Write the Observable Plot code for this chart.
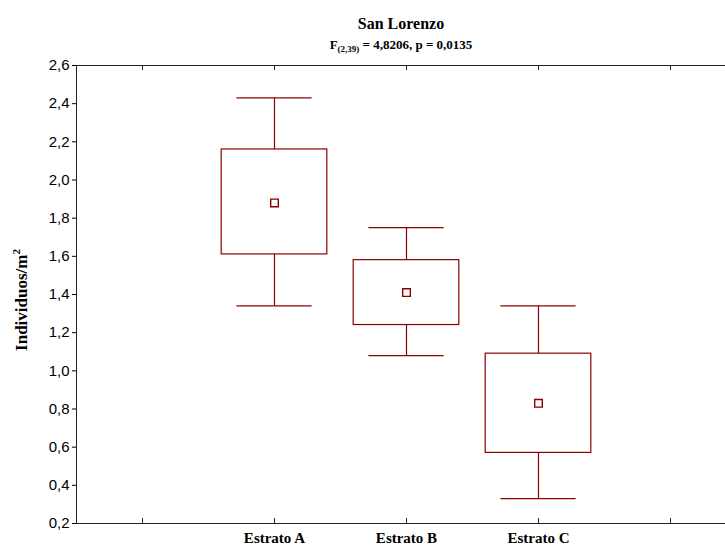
<!DOCTYPE html>
<html>
<head>
<meta charset="utf-8">
<script src="https://cdn.jsdelivr.net/npm/d3@7"></script>
<script src="https://cdn.jsdelivr.net/npm/@observablehq/plot@0.6"></script>
<style>
  html, body { margin: 0; padding: 0; background: #fff; }
  svg { display: block; }
</style>
</head>
<body>
<div id="chart"></div>
<script>
// ---- data ----
const categories  = ["Estrato A", "Estrato B", "Estrato C"];
const means       = [1.88, 1.41, 0.83];
const boxLow      = [1.61, 1.24, 0.57];
const boxHigh     = [2.16, 1.58, 1.09];
const whiskerLow  = [1.34, 1.08, 0.33];
const whiskerHigh = [2.43, 1.75, 1.34];
const yTicks      = [0.2, 0.4, 0.6, 0.8, 1.0, 1.2, 1.4, 1.6, 1.8, 2.0, 2.2, 2.4, 2.6];
const xTickSlots  = [0, 1, 2, 3, 4];
const titleText   = "San Lorenzo";
const statName    = "F";
const statSub     = "(2,39)";
const statRest    = " = 4,8206, p = 0,0135";
const yLabelText  = "Individuos/m";
const yLabelSup   = "2";

const rows = categories.map((c, i) => ({
  pos: i + 1, cat: c, mean: means[i],
  lo: boxLow[i], hi: boxHigh[i], wlo: whiskerLow[i], whi: whiskerHigh[i]
}));

const red = "#8b0000";
const fmt = d => d.toFixed(1).replace(".", ",");
const serif = "'Liberation Serif', 'Times New Roman', serif";

const chart = Plot.plot({
  width: 725,
  height: 549,
  marginLeft: 76,
  marginRight: 0,
  marginTop: 65,
  marginBottom: 26,
  x: { type: "linear", domain: [-0.5, 4.4167], axis: null },
  y: { domain: [0.2, 2.6] },
  style: { fontFamily: "'Liberation Sans', Arial, sans-serif", fontSize: "15px", color: "#000", background: "#fff" },
  marks: [
    Plot.axisY({ ticks: yTicks, tickSize: 4, tickPadding: 3, tickFormat: fmt, label: null, fontSize: 15 }),
    // frame lines (left, top, bottom)
    Plot.ruleX([-0.5], { stroke: "#222" }),
    Plot.ruleY([0.2, 2.6], { stroke: "#222" }),
    // inward ticks on bottom and top
    Plot.ruleX(xTickSlots, { x: d => d, y1: 0.2, y2: 0.2, insetTop: -5, stroke: "#222" }),
    Plot.ruleX(xTickSlots, { x: d => d, y1: 2.6, y2: 2.6, insetBottom: -5, stroke: "#222" }),
    // category labels
    Plot.text(rows, { x: "pos", frameAnchor: "bottom", dy: 19, text: "cat",
      fontFamily: serif, fontWeight: "bold", fontSize: 15, fill: "#000" }),
    // whiskers
    Plot.ruleX(rows, { x: "pos", y1: "hi", y2: "whi", stroke: red, strokeWidth: 1.2 }),
    Plot.ruleX(rows, { x: "pos", y1: "wlo", y2: "lo", stroke: red, strokeWidth: 1.2 }),
    Plot.ruleY(rows, { y: "whi", x1: d => d.pos - 0.285, x2: d => d.pos + 0.285, stroke: red, strokeWidth: 1.2 }),
    Plot.ruleY(rows, { y: "wlo", x1: d => d.pos - 0.285, x2: d => d.pos + 0.285, stroke: red, strokeWidth: 1.2 }),
    // boxes
    Plot.rect(rows, { x1: d => d.pos - 0.4, x2: d => d.pos + 0.4, y1: "lo", y2: "hi",
      fill: "none", stroke: red, strokeWidth: 1.2 }),
    // means
    Plot.dot(rows, { x: "pos", y: "mean", symbol: "square", r: 4.3, fill: "white", stroke: red, strokeWidth: 1.4 })
  ]
});

document.getElementById("chart").appendChild(chart);

const svg = d3.select(chart);
svg.append("text")
  .attr("x", 401).attr("y", 29)
  .attr("text-anchor", "middle")
  .attr("font-family", serif).attr("font-weight", "bold").attr("font-size", 16)
  .attr("fill", "#000")
  .text(titleText);

const sub = svg.append("text")
  .attr("x", 401).attr("y", 49)
  .attr("text-anchor", "middle")
  .attr("font-family", serif).attr("font-weight", "bold").attr("font-size", 13)
  .attr("fill", "#000");
sub.append("tspan").text(statName);
sub.append("tspan").attr("font-size", 9).attr("dy", 3).text(statSub);
sub.append("tspan").attr("dy", -3).text(statRest);

const yl = svg.append("text")
  .attr("transform", "translate(27,300) rotate(-90)")
  .attr("text-anchor", "middle")
  .attr("font-family", serif).attr("font-weight", "bold").attr("font-size", 17)
  .attr("fill", "#000");
yl.append("tspan").text(yLabelText);
yl.append("tspan").attr("font-size", 11).attr("dy", -7).text(yLabelSup);
</script>
</body>
</html>
